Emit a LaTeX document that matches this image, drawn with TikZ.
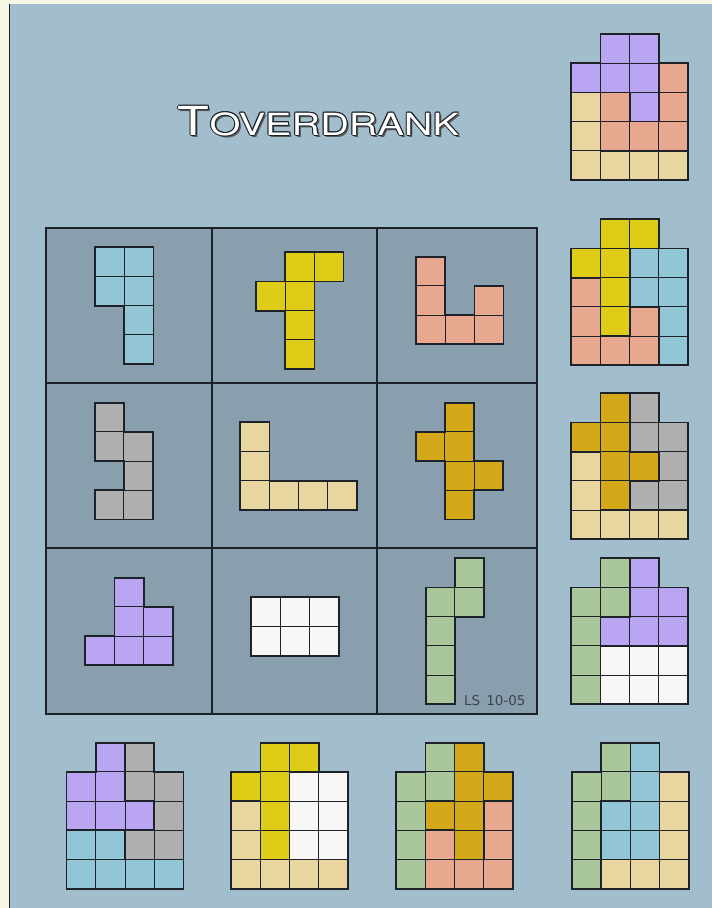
\documentclass[tikz,border=0pt]{standalone}
\usepackage{fontspec}
\newfontfamily\titlefont{TeX Gyre Heros}
\newfontfamily\labfont{DejaVu Sans}
\definecolor{cream}{HTML}{F7F5E3}
\definecolor{bgblue}{HTML}{A2BDCB}
\definecolor{cellbg}{HTML}{8A9FAE}
\definecolor{inkc}{HTML}{1C2228}
\definecolor{ccyan}{HTML}{92C5D6}
\definecolor{cyellow}{HTML}{DFCC17}
\definecolor{csalmon}{HTML}{E8A890}
\definecolor{cgray}{HTML}{B0B0B0}
\definecolor{ctan}{HTML}{E8D5A0}
\definecolor{cgold}{HTML}{D4A818}
\definecolor{cpurple}{HTML}{B9A5F2}
\definecolor{cwhite}{HTML}{F7F7F5}
\definecolor{cgreen}{HTML}{A9C79B}
\tikzset{
  cellline/.style={draw=inkc, line width=0.9pt},
  pieceline/.style={draw=inkc, line width=1.7pt, line join=miter},
  gridline/.style={draw=inkc, line width=1.3pt},
  puz/.style={x=29.2pt, y=-29.2pt},
}
\newcommand\piece[3]{%
  \fill[#1] #2;
  \foreach \cx/\cy in {#3}{\draw[cellline] (\cx,\cy) rectangle ++(1,1);}
  \draw[pieceline] #2;}
% reusable shapes
\newcommand\shTanL{\piece{ctan}{(0,2)--(1,2)--(1,4)--(4,4)--(4,5)--(0,5)--cycle}{0/2,0/3,0/4,1/4,2/4,3/4}}
\newcommand\shGreen{\piece{cgreen}{(1,0)--(2,0)--(2,2)--(1,2)--(1,5)--(0,5)--(0,1)--(1,1)--cycle}{1/0,0/1,1/1,0/2,0/3,0/4}}
\newcommand\shYellow{\piece{cyellow}{(1,0)--(3,0)--(3,1)--(2,1)--(2,4)--(1,4)--(1,2)--(0,2)--(0,1)--(1,1)--cycle}{1/0,2/0,0/1,1/1,1/2,1/3}}
\newcommand\shGray{\piece{cgray}{(2,0)--(3,0)--(3,1)--(4,1)--(4,4)--(2,4)--(2,3)--(3,3)--(3,2)--(2,2)--cycle}{2/0,2/1,3/1,3/2,2/3,3/3}}
\newcommand\shGold{\piece{cgold}{(1,0)--(2,0)--(2,2)--(3,2)--(3,3)--(2,3)--(2,4)--(1,4)--(1,2)--(0,2)--(0,1)--(1,1)--cycle}{1/0,0/1,1/1,1/2,2/2,1/3}}
\newcommand\titletext{\scalebox{1.3}[1]{\titlefont\fontsize{40}{40}\selectfont T\fontsize{30.5}{30.5}\selectfont OVERDRANK}}
\begin{document}
\begin{tikzpicture}[x=1pt,y=-1pt]
\useasboundingbox (0,0) rectangle (712,908);
% background
\fill[cream] (0,0) rectangle (712,908);
\fill[bgblue] (9.5,4) rectangle (712,908);
\draw[inkc, line width=1.5pt] (9.5,4) -- (9.5,908);
% title
\node[anchor=base, text=gray!70!black, inner sep=0] (tshadow) at (320.5,137) {\titletext};
\foreach \dx/\dy [count=\i] in {-1/0,1/0,0/-1,0/1,-0.8/-0.8,0.8/-0.8,-0.8/0.8,0.8/0.8}{
  \node[anchor=base, text=inkc, inner sep=0] (tout\i) at (318.5+\dx,135+\dy) {\titletext};}
\node[anchor=base, text=white, inner sep=0] (title) at (318.5,135) {\titletext};
% grid table
\fill[cellbg] (46,228) rectangle (537,714);
\draw[gridline] (46,228) rectangle (537,714);
\draw[gridline] (212,228) -- (212,714) (377,228) -- (377,714)
                (46,383) -- (537,383) (46,548) -- (537,548);
% grid pieces
\begin{scope}[shift={(95,247.3)}, puz]
  \piece{ccyan}{(0,0)--(2,0)--(2,4)--(1,4)--(1,2)--(0,2)--cycle}{0/0,1/0,0/1,1/1,1/2,1/3}
\end{scope}
\begin{scope}[shift={(256,252.3)}, puz] \shYellow \end{scope}
\begin{scope}[shift={(416,256.7)}, puz]
  \piece{csalmon}{(0,0)--(1,0)--(1,2)--(2,2)--(2,1)--(3,1)--(3,3)--(0,3)--cycle}{0/0,0/1,2/1,0/2,1/2,2/2}
\end{scope}
\begin{scope}[shift={(94.7,402.7)}, puz]
  \piece{cgray}{(0,0)--(1,0)--(1,1)--(2,1)--(2,4)--(0,4)--(0,3)--(1,3)--(1,2)--(0,2)--cycle}{0/0,0/1,1/1,1/2,0/3,1/3}
\end{scope}
\begin{scope}[shift={(240.3,422.3)}, puz]
  \piece{ctan}{(0,0)--(1,0)--(1,2)--(4,2)--(4,3)--(0,3)--cycle}{0/0,0/1,0/2,1/2,2/2,3/2}
\end{scope}
\begin{scope}[shift={(415.7,402.7)}, puz] \shGold \end{scope}
\begin{scope}[shift={(85.3,577.7)}, puz]
  \piece{cpurple}{(1,0)--(2,0)--(2,1)--(3,1)--(3,3)--(0,3)--(0,2)--(1,2)--cycle}{1/0,1/1,2/1,0/2,1/2,2/2}
\end{scope}
\begin{scope}[shift={(251.3,597.3)}, puz]
  \piece{cwhite}{(0,0)--(3,0)--(3,2)--(0,2)--cycle}{0/0,1/0,2/0,0/1,1/1,2/1}
\end{scope}
\begin{scope}[shift={(425.7,558.3)}, puz] \shGreen \end{scope}
\node[anchor=base west, text=inkc!85, inner sep=0, font=\labfont\fontsize{13.5}{13.5}\selectfont] (lbl) at (464,705.5) {LS\hspace{6pt}10-05};
% right column solutions
\begin{scope}[shift={(571.3,34)}, puz]
  \piece{cpurple}{(1,0)--(3,0)--(3,3)--(2,3)--(2,2)--(0,2)--(0,1)--(1,1)--cycle}{1/0,2/0,0/1,1/1,2/1,2/2}
  \piece{csalmon}{(3,1)--(4,1)--(4,4)--(1,4)--(1,2)--(2,2)--(2,3)--(3,3)--cycle}{3/1,1/2,3/2,1/3,2/3,3/3}
  \shTanL
\end{scope}
\begin{scope}[shift={(571.3,219.3)}, puz]
  \shYellow
  \piece{ccyan}{(2,1)--(4,1)--(4,5)--(3,5)--(3,3)--(2,3)--cycle}{2/1,3/1,2/2,3/2,3/3,3/4}
  \piece{csalmon}{(0,2)--(1,2)--(1,4)--(2,4)--(2,3)--(3,3)--(3,5)--(0,5)--cycle}{0/2,0/3,2/3,0/4,1/4,2/4}
\end{scope}
\begin{scope}[shift={(571.3,393.3)}, puz]
  \shGold
  \shGray
  \shTanL
\end{scope}
\begin{scope}[shift={(571.3,558.3)}, puz]
  \shGreen
  \piece{cpurple}{(2,0)--(3,0)--(3,1)--(4,1)--(4,3)--(1,3)--(1,2)--(2,2)--cycle}{2/0,2/1,3/1,1/2,2/2,3/2}
  \piece{cwhite}{(1,3)--(4,3)--(4,5)--(1,5)--cycle}{1/3,2/3,3/3,1/4,2/4,3/4}
\end{scope}
% bottom row solutions
\begin{scope}[shift={(66.6,742.7)}, puz]
  \piece{cpurple}{(1,0)--(2,0)--(2,2)--(3,2)--(3,3)--(0,3)--(0,1)--(1,1)--cycle}{1/0,0/1,1/1,0/2,1/2,2/2}
  \shGray
  \piece{ccyan}{(0,3)--(2,3)--(2,4)--(4,4)--(4,5)--(0,5)--cycle}{0/3,1/3,0/4,1/4,2/4,3/4}
\end{scope}
\begin{scope}[shift={(231.2,742.7)}, puz]
  \shYellow
  \piece{cwhite}{(2,1)--(4,1)--(4,4)--(2,4)--cycle}{2/1,3/1,2/2,3/2,2/3,3/3}
  \shTanL
\end{scope}
\begin{scope}[shift={(396.2,742.7)}, puz]
  \shGreen
  \piece{cgold}{(2,0)--(3,0)--(3,1)--(4,1)--(4,2)--(3,2)--(3,4)--(2,4)--(2,3)--(1,3)--(1,2)--(2,2)--cycle}{2/0,2/1,3/1,1/2,2/2,2/3}
  \piece{csalmon}{(3,2)--(4,2)--(4,5)--(1,5)--(1,3)--(2,3)--(2,4)--(3,4)--cycle}{3/2,1/3,3/3,1/4,2/4,3/4}
\end{scope}
\begin{scope}[shift={(572,742.7)}, puz]
  \shGreen
  \piece{ccyan}{(2,0)--(3,0)--(3,4)--(1,4)--(1,2)--(2,2)--cycle}{2/0,2/1,1/2,2/2,1/3,2/3}
  \piece{ctan}{(3,1)--(4,1)--(4,5)--(1,5)--(1,4)--(3,4)--cycle}{3/1,3/2,3/3,1/4,2/4,3/4}
\end{scope}
\end{tikzpicture}
\end{document}
